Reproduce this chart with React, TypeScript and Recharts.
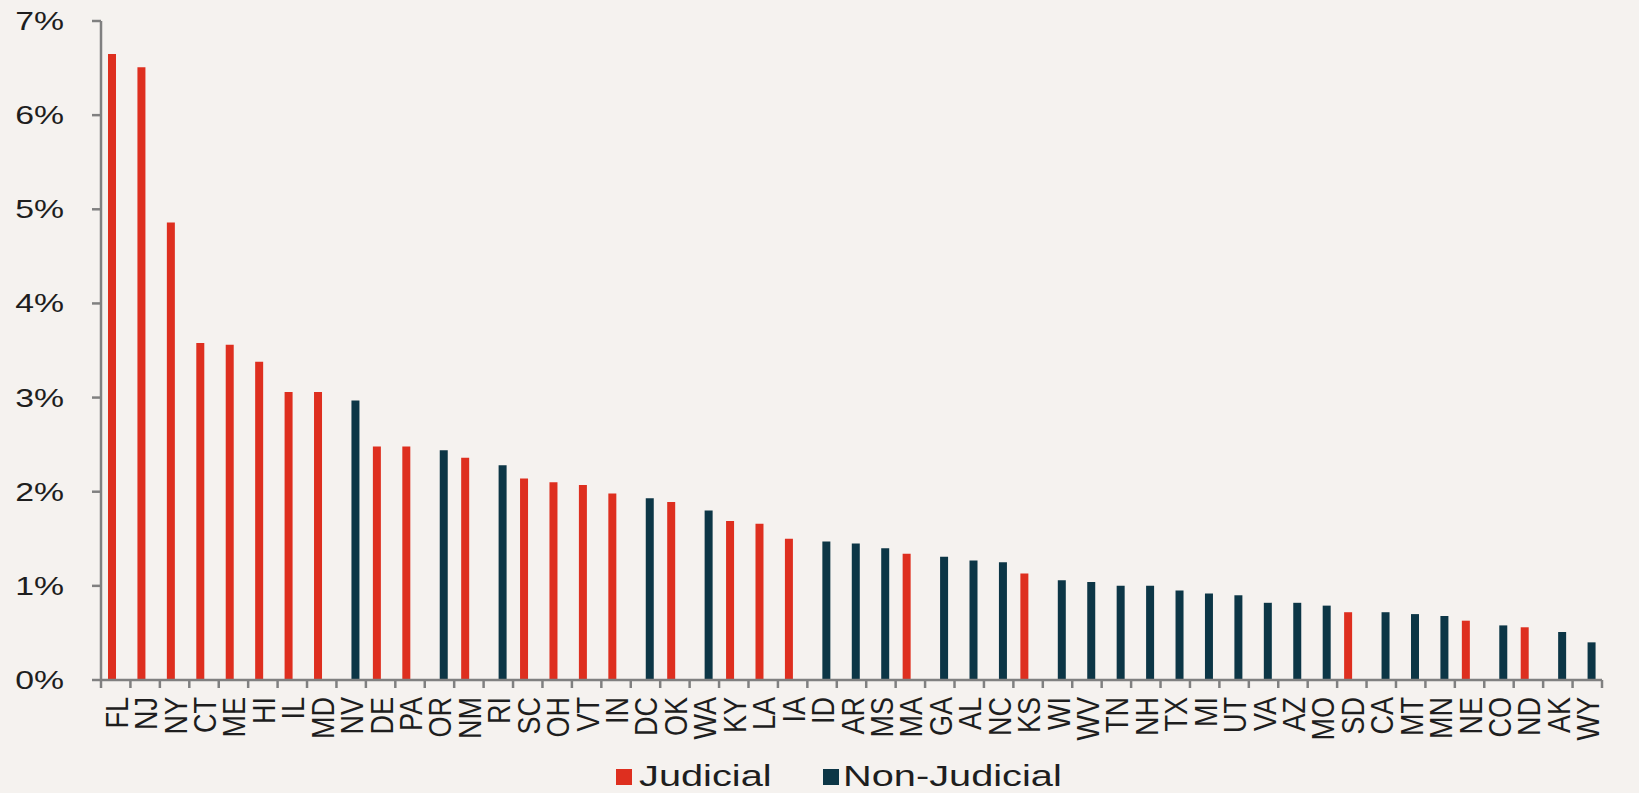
import { BarChart, Bar, XAxis, YAxis } from "recharts"

// Foreclosure inventory share by state, sorted high to low
const states = [
  "FL", "NJ", "NY", "CT", "ME", "HI", "IL", "MD", "NV", "DE", "PA", "OR", "NM",
  "RI", "SC", "OH", "VT", "IN", "DC", "OK", "WA", "KY", "LA", "IA", "ID", "AR",
  "MS", "MA", "GA", "AL", "NC", "KS", "WI", "WV", "TN", "NH", "TX", "MI", "UT",
  "VA", "AZ", "MO", "SD", "CA", "MT", "MN", "NE", "CO", "ND", "AK", "WY",
]

const rates = [
  6.65, 6.51, 4.86, 3.58, 3.56, 3.38, 3.06, 3.06, 2.97, 2.48, 2.48, 2.44, 2.36,
  2.28, 2.14, 2.1, 2.07, 1.98, 1.93, 1.89, 1.8, 1.69, 1.66, 1.5, 1.47, 1.45,
  1.4, 1.34, 1.31, 1.27, 1.25, 1.13, 1.06, 1.04, 1.0, 1.0, 0.95, 0.92, 0.9,
  0.82, 0.82, 0.79, 0.72, 0.72, 0.7, 0.68, 0.63, 0.58, 0.56, 0.51, 0.4,
]

// J = judicial foreclosure state, N = non-judicial
const process = [
  "J", "J", "J", "J", "J", "J", "J", "J", "N", "J", "J", "N", "J",
  "N", "J", "J", "J", "J", "N", "J", "N", "J", "J", "J", "N", "N",
  "N", "J", "N", "N", "N", "J", "N", "N", "N", "N", "N", "N", "N",
  "N", "N", "N", "J", "N", "N", "N", "J", "N", "J", "N", "N",
]

const yTicks = [0, 1, 2, 3, 4, 5, 6, 7]

const RED = "#de2f1f"
const NAVY = "#0c3646"
const AXIS = "#808080"
const TEXT = "#1e1e1e"
const FONT = "'Liberation Sans', Arial, sans-serif"

const W = 1639
const H = 793
const PLOT_LEFT = 101
const PLOT_RIGHT = 37
const BAND = (W - PLOT_LEFT - PLOT_RIGHT) / states.length

const data = states.map((s, i) => ({
  state: s,
  judicial: process[i] === "J" ? rates[i] : null,
  nonJudicial: process[i] === "N" ? rates[i] : null,
}))

// category ticks sit on the band edges, labels run bottom-to-top
function StateTick(props: any) {
  const { x, y, payload, index } = props
  const left = x - BAND / 2
  return (
    <g>
      <line x1={left} x2={left} y1={y} y2={y + 8} stroke={AXIS} strokeWidth={2.5} />
      {index === states.length - 1 && (
        <line x1={x + BAND / 2} x2={x + BAND / 2} y1={y} y2={y + 8} stroke={AXIS} strokeWidth={2.5} />
      )}
      <text
        transform={`translate(${x + 12},${y + 17}) rotate(-90) scale(1.23,1.4)`}
        textAnchor="end"
        fontSize={22}
        fontFamily={FONT}
        fill={TEXT}
      >
        {payload.value}
      </text>
    </g>
  )
}

function PercentTick(props: any) {
  const { x, y, payload } = props
  return (
    <g>
      <line x1={x - 9} x2={x} y1={y} y2={y} stroke={AXIS} strokeWidth={2.5} />
      <text
        transform={`translate(${x - 37},${y + 9}) scale(1.3,1)`}
        textAnchor="end"
        fontSize={26}
        fontFamily={FONT}
        fill={TEXT}
      >
        {`${payload.value}%`}
      </text>
    </g>
  )
}

const legendItems = [
  { label: "Judicial", color: RED, box: 616, text: 639 },
  { label: "Non-Judicial", color: NAVY, box: 823, text: 843 },
]

export default function App() {
  return (
    <div style={{ position: "absolute", left: 0, top: 0, width: W, height: H, background: "#f5f2ef" }}>
      <BarChart
        width={W}
        height={H}
        data={data}
        margin={{ top: 21, right: PLOT_RIGHT, bottom: 0, left: 0 }}
        barGap={0}
        barSize={8}
      >
        <XAxis
          dataKey="state"
          interval={0}
          height={113}
          tickSize={0}
          tickMargin={0}
          tick={<StateTick />}
          axisLine={{ stroke: AXIS, strokeWidth: 2.5 }}
        />
        <YAxis
          width={PLOT_LEFT}
          domain={[0, 7]}
          ticks={yTicks}
          interval={0}
          tickSize={0}
          tickMargin={0}
          tick={<PercentTick />}
          axisLine={{ stroke: AXIS, strokeWidth: 2.5 }}
        />
        <Bar dataKey="judicial" fill={RED} isAnimationActive={false} />
        <Bar dataKey="nonJudicial" fill={NAVY} isAnimationActive={false} />
      </BarChart>
      <svg width={W} height={H} style={{ position: "absolute", left: 0, top: 0, pointerEvents: "none" }}>
        {legendItems.map((item) => (
          <g key={item.label}>
            <rect x={item.box} y={769} width={16} height={16} fill={item.color} />
            <text
              transform={`translate(${item.text},786) scale(1.42,1.06)`}
              fontSize={28}
              fontFamily={FONT}
              fill={TEXT}
            >
              {item.label}
            </text>
          </g>
        ))}
      </svg>
    </div>
  )
}
